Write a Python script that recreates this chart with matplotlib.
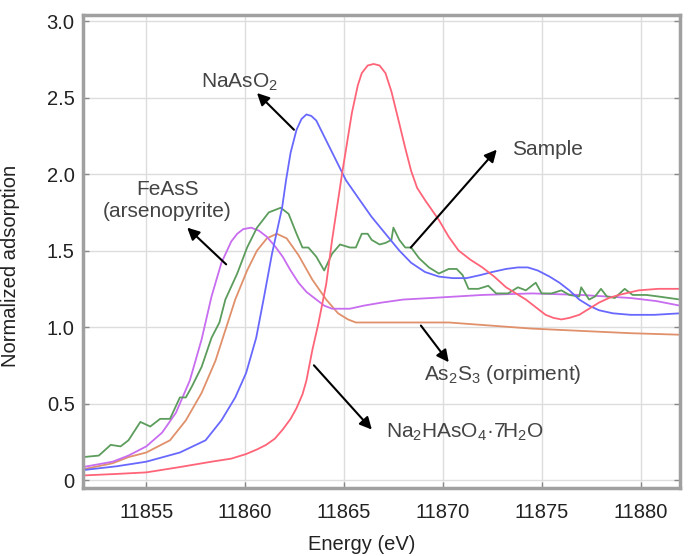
import matplotlib
matplotlib.use('Agg')
import matplotlib.pyplot as plt
import numpy as np

# --- data (energy in eV, normalized absorption) ---
red_x = [11851.8, 11853.5, 11855.0, 11856.7, 11858.3, 11859.3, 11860.05, 11860.6, 11861.06,
         11861.5, 11861.9, 11862.3, 11862.6, 11862.9, 11863.1, 11863.4, 11863.7, 11864.1,
         11864.4, 11864.9, 11865.4, 11865.7, 11865.9, 11866.2, 11866.5, 11866.8, 11867.1,
         11867.4, 11867.8, 11868.1, 11868.4, 11868.7, 11869.1, 11869.8, 11870.3, 11870.8,
         11871.4, 11872.0, 11872.6, 11873.2, 11873.7, 11874.2, 11874.7, 11875.2, 11875.6,
         11876.0, 11876.4, 11876.9, 11877.4, 11877.9, 11878.4, 11878.9, 11879.9, 11880.9,
         11882.0]
red_y = [0.03, 0.04, 0.05, 0.085, 0.12, 0.14, 0.17, 0.20, 0.23,
         0.27, 0.33, 0.40, 0.47, 0.56, 0.65, 0.85, 1.02, 1.28,
         1.57, 2.00, 2.40, 2.58, 2.66, 2.71, 2.72, 2.71, 2.66,
         2.54, 2.33, 2.17, 2.02, 1.91, 1.83, 1.70, 1.59, 1.50,
         1.44, 1.39, 1.33, 1.26, 1.22, 1.18, 1.13, 1.08, 1.06,
         1.05, 1.06, 1.08, 1.12, 1.16, 1.19, 1.21, 1.24, 1.25,
         1.25]

blue_x = [11851.8, 11853.5, 11855.0, 11856.7, 11858.0, 11858.8, 11859.5, 11860.05, 11860.56,
          11860.96, 11861.36, 11861.87, 11862.07, 11862.3, 11862.6, 11862.85, 11863.1,
          11863.35, 11863.6, 11864.1, 11864.6, 11865.1, 11865.8, 11866.4, 11867.1, 11867.8,
          11868.4, 11869.1, 11869.8, 11870.5, 11871.2, 11871.9, 11872.5, 11873.2, 11873.8,
          11874.3, 11874.8, 11875.4, 11875.9, 11876.4, 11876.9, 11877.4, 11877.9, 11878.6,
          11879.5, 11880.7, 11882.0]
blue_y = [0.065, 0.09, 0.12, 0.18, 0.26, 0.39, 0.54, 0.70, 0.93,
          1.20, 1.48, 1.78, 1.96, 2.14, 2.29, 2.36, 2.39,
          2.38, 2.35, 2.22, 2.09, 1.96, 1.83, 1.72, 1.61, 1.50,
          1.42, 1.36, 1.33, 1.32, 1.32, 1.34, 1.36, 1.38, 1.39,
          1.39, 1.37, 1.33, 1.29, 1.24, 1.18, 1.14, 1.11, 1.09,
          1.08, 1.08, 1.09]

purple_x = [11851.8, 11853.3, 11854.1, 11855.0, 11855.8, 11856.5, 11857.2, 11857.8, 11858.3,
            11858.8, 11859.3, 11859.6, 11859.9, 11860.3, 11860.7, 11861.1, 11861.5, 11861.9,
            11862.3, 11862.7, 11863.1, 11863.6, 11864.0, 11864.4, 11865.3, 11866.0, 11866.9,
            11868.0, 11869.4, 11872.0, 11874.5, 11877.0, 11879.5, 11880.8, 11882.0]
purple_y = [0.085, 0.12, 0.16, 0.22, 0.31, 0.44, 0.65, 0.92, 1.20,
            1.42, 1.56, 1.61, 1.64, 1.65, 1.63, 1.59, 1.53, 1.46,
            1.37, 1.29, 1.23, 1.18, 1.14, 1.12, 1.12, 1.14, 1.16,
            1.18, 1.19, 1.21, 1.22, 1.21, 1.19, 1.17, 1.14]

orange_x = [11851.8, 11853.3, 11854.1, 11855.0, 11856.2, 11857.0, 11857.8, 11858.5, 11859.0,
            11859.5, 11860.1, 11860.6, 11861.1, 11861.6, 11862.1, 11862.7, 11863.4, 11864.1,
            11864.7, 11865.2, 11865.6, 11866.9, 11870.3, 11874.5, 11879.5, 11882.0]
orange_y = [0.07, 0.11, 0.15, 0.18, 0.26, 0.39, 0.57, 0.78, 0.98,
            1.18, 1.37, 1.50, 1.58, 1.61, 1.58, 1.47, 1.31, 1.18,
            1.09, 1.05, 1.03, 1.03, 1.03, 0.99, 0.96, 0.95]

green_x = [11851.8, 11852.6, 11853.2, 11853.7, 11854.1, 11854.7, 11855.2, 11855.7, 11856.2,
           11856.7, 11857.0, 11857.3, 11857.8, 11858.3, 11858.7, 11859.0, 11859.6, 11860.1,
           11860.6, 11861.2, 11861.8, 11862.2, 11862.6, 11862.9, 11863.2, 11863.6, 11864.0,
           11864.4, 11864.8, 11865.3, 11865.6, 11865.9, 11866.2, 11866.4, 11866.8, 11867.1,
           11867.4, 11867.5, 11867.8, 11868.1, 11868.4, 11868.8, 11869.3, 11869.8, 11870.3,
           11870.7, 11871.0, 11871.3, 11871.8, 11872.3, 11872.7, 11873.3, 11873.8, 11874.2,
           11874.7, 11875.0, 11875.5, 11876.0, 11876.4, 11876.9, 11877.0, 11877.4, 11877.7,
           11878.0, 11878.3, 11878.7, 11879.2, 11879.6, 11880.3, 11880.9, 11882.0]
green_y = [0.15, 0.16, 0.23, 0.22, 0.26, 0.38, 0.35, 0.40, 0.40,
           0.54, 0.54, 0.61, 0.74, 0.93, 1.03, 1.18, 1.35, 1.52,
           1.65, 1.75, 1.78, 1.74, 1.61, 1.52, 1.52, 1.46, 1.37,
           1.48, 1.54, 1.52, 1.52, 1.61, 1.61, 1.57, 1.54, 1.55,
           1.57, 1.65, 1.57, 1.52, 1.52, 1.45, 1.39, 1.35, 1.38,
           1.38, 1.34, 1.25, 1.25, 1.27, 1.22, 1.22, 1.26, 1.24,
           1.29, 1.22, 1.22, 1.24, 1.21, 1.20, 1.26, 1.18, 1.20,
           1.25, 1.20, 1.19, 1.25, 1.21, 1.21, 1.20, 1.18]

x_ticks = [11855, 11860, 11865, 11870, 11875, 11880]
y_ticks = [0, 0.5, 1.0, 1.5, 2.0, 2.5, 3.0]
y_ticklabels = ['0', '0.5', '1.0', '1.5', '2.0', '2.5', '3.0']

plt.rcParams['font.family'] = ['Liberation Sans', 'DejaVu Sans']
plt.rcParams['mathtext.fontset'] = 'custom'
plt.rcParams['mathtext.rm'] = 'Liberation Sans'
plt.rcParams['mathtext.it'] = 'Liberation Sans'
plt.rcParams['mathtext.bf'] = 'Liberation Sans'

fig = plt.figure(figsize=(6.89, 5.56), dpi=100)
ax = fig.add_axes([0.1205, 0.1223, 0.8665, 0.8507])

lw = 1.3
ax.plot(orange_x, orange_y, color='#e0906a', lw=lw)
ax.plot(purple_x, purple_y, color='#c86cf0', lw=lw)
ax.plot(green_x, green_y, color='#5c9c5c', lw=lw)
ax.plot(blue_x, blue_y, color='#6868ff', lw=lw)
ax.plot(red_x, red_y, color='#ff6478', lw=lw)

ax.set_xlim(11851.8, 11882.0)
ax.set_ylim(-0.052, 3.04)
ax.set_xticks(x_ticks)
ax.set_yticks(y_ticks)
ax.set_yticklabels(y_ticklabels)
ax.tick_params(axis='both', direction='in', length=4, width=1, color='#888888',
               labelsize=14.5, labelcolor='#222222', top=False, right=True)
ax.tick_params(axis='x', pad=11)
ax.tick_params(axis='y', pad=6)
ax.grid(True, color='#dddddd', lw=1)
ax.set_axisbelow(True)
for s in ax.spines.values():
    s.set_color('#a0a0a0')
    s.set_linewidth(2.5)

ax.set_ylabel('Normalized adsorption', fontsize=14.5, color='#222222')
ax.yaxis.set_label_coords(-0.105, 0.47)
ax.set_xlabel('Energy (eV)', fontsize=14.5, color='#222222')
ax.xaxis.set_label_coords(0.466, -0.100)

# annotations
txt = dict(fontsize=15, color='#444444')
arw = dict(arrowstyle='-|>', color='black', lw=1.5, mutation_scale=18, shrinkA=0, shrinkB=0)

ax.text(11859.7, 2.60, 'NaAsO$_2$', ha='center', va='center', **txt)
ax.annotate('', xy=(11860.6, 2.53), xytext=(11862.47, 2.29), arrowprops=arw)

ax.text(11856.06, 1.83, 'FeAsS\n(arsenopyrite)', ha='center', va='center',
        linespacing=1.2, **txt)
ax.annotate('', xy=(11857.07, 1.65), xytext=(11859.04, 1.41), arrowprops=arw)

ax.text(11873.5, 2.16, 'Sample', ha='left', va='center', **txt)
ax.annotate('', xy=(11872.73, 2.16), xytext=(11868.38, 1.52), arrowprops=arw)

ax.text(11869.04, 0.69, 'As$_2$S$_3$ (orpiment)', ha='left', va='center', **txt)
ax.annotate('', xy=(11870.3, 0.77), xytext=(11868.89, 1.01), arrowprops=arw)

ax.text(11867.12, 0.31, 'Na$_2$HAsO$_4$·7H$_2$O', ha='left', va='center', **txt)
ax.annotate('', xy=(11866.41, 0.33), xytext=(11863.48, 0.75), arrowprops=arw)

plt.savefig('out.png', dpi=100)
